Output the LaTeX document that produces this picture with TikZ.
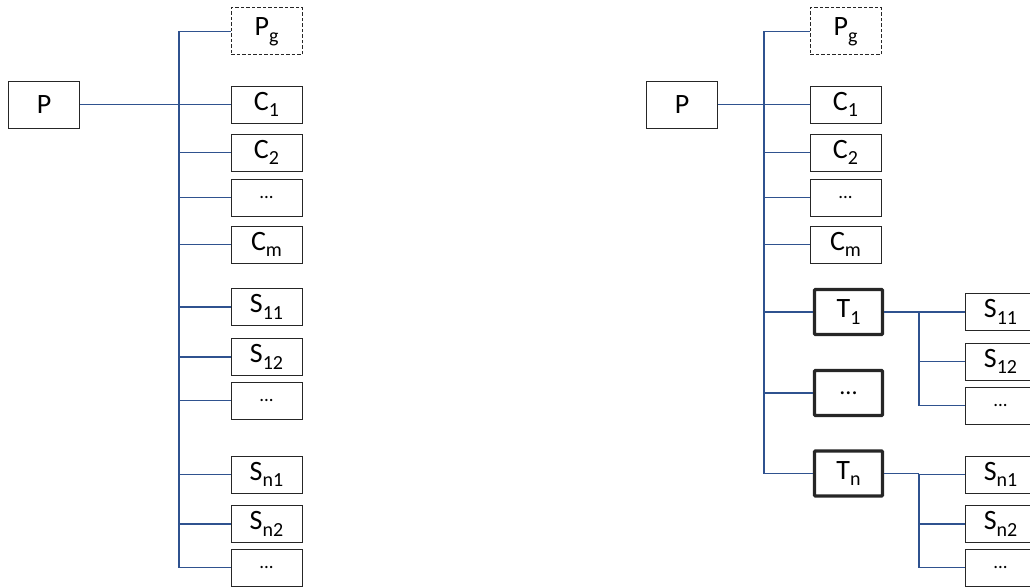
\documentclass[tikz,border=0pt]{standalone}
\usepackage{fontspec}
\setmainfont{Carlito}
\newcommand\mysub[1]{\raisebox{-0.24em}{\fontsize{20}{20}\selectfont #1}}
\tikzset{
  box/.style={draw=black!85, line width=1pt, minimum width=71pt, minimum height=37pt, inner sep=0pt, font=\fontsize{28}{30}\selectfont},
  tallbox/.style={box, minimum height=47pt},
  ghost/.style={tallbox, dashed, dash pattern=on 3.5pt off 2pt},
  tbox/.style={box, line width=3.3pt, minimum height=45pt, minimum width=68pt, rounded corners=1pt},
  conn/.style={draw={rgb,255:red,47;green,82;blue,143}, line width=1.1pt},
  dots/.style={font=\fontsize{19}{22}\selectfont}
}
\begin{document}
\begin{tikzpicture}[x=1pt,y=-1pt]
\useasboundingbox (0,0) rectangle (1030,586);
% ---------- left tree ----------
\node[tallbox] (LP) at (44,104.5) {P};
\node[ghost] (LPg) at (266.5,31.5) {P\mysub{g}};
\node[box] (LC1) at (266.5,104.5) {C\mysub{1}};
\node[box] (LC2) at (266.5,152.5) {C\mysub{2}};
\node[box,dots] (LCd) at (266.5,197.5) {...};
\node[box] (LCm) at (266.5,244.5) {C\mysub{m}};
\node[box] (LS11) at (266.5,307) {S\mysub{11}};
\node[box] (LS12) at (266.5,357) {S\mysub{12}};
\node[box,dots] (LSd1) at (266.5,400.5) {...};
\node[box] (LSn1) at (266.5,474.5) {S\mysub{n1}};
\node[box] (LSn2) at (266.5,524) {S\mysub{n2}};
\node[box,dots] (LSd2) at (266.5,567.5) {...};
\coordinate (tL) at (179,0);
\draw[conn] (LP.east) -- (LP.east -| tL);
\draw[conn] (LPg.west -| tL) -- (LSd2.west -| tL);
\foreach \n in {LPg,LC1,LC2,LCd,LCm,LS11,LS12,LSd1,LSn1,LSn2,LSd2}
  \draw[conn] (tL |- \n.west) -- (\n.west);
% ---------- right tree ----------
\node[tallbox] (RP) at (682,104.5) {P};
\node[ghost] (RPg) at (845.5,31.5) {P\mysub{g}};
\node[box] (RC1) at (845.5,104.5) {C\mysub{1}};
\node[box] (RC2) at (845.5,152.5) {C\mysub{2}};
\node[box,dots] (RCd) at (845.5,197.5) {...};
\node[box] (RCm) at (845.5,244.5) {C\mysub{m}};
\node[tbox] (RT1) at (848.5,312) {T\mysub{1}};
\node[tbox,font=\fontsize{24}{26}\selectfont] (RTd) at (848.5,393) {...};
\node[tbox] (RTn) at (848.5,473.5) {T\mysub{n}};
\node[box] (RS11) at (1000.5,312) {S\mysub{11}};
\node[box] (RS12) at (1000.5,361.5) {S\mysub{12}};
\node[box,dots] (RSd1) at (1000.5,405.5) {...};
\node[box] (RSn1) at (1000.5,474.5) {S\mysub{n1}};
\node[box] (RSn2) at (1000.5,524) {S\mysub{n2}};
\node[box,dots] (RSd2) at (1000.5,567.5) {...};
\coordinate (tR) at (764,0);
\coordinate (t1) at (919,0);
\draw[conn] (RP.east) -- (RP.east -| tR);
\draw[conn] (RPg.west -| tR) -- (RTn.west -| tR);
\foreach \n in {RPg,RC1,RC2,RCd,RCm,RT1,RTd,RTn}
  \draw[conn] (tR |- \n.west) -- (\n.west);
\draw[conn] (RT1.east) -- (RT1.east -| t1);
\draw[conn] (RT1.east -| t1) -- (RSd1.west -| t1);
\foreach \n in {RS11,RS12,RSd1}
  \draw[conn] (t1 |- \n.west) -- (\n.west);
\draw[conn] (RTn.east) -- (RTn.east -| t1);
\draw[conn] (RTn.east -| t1) -- (RSd2.west -| t1);
\foreach \n in {RSn1,RSn2,RSd2}
  \draw[conn] (t1 |- \n.west) -- (\n.west);
\end{tikzpicture}
\end{document}
